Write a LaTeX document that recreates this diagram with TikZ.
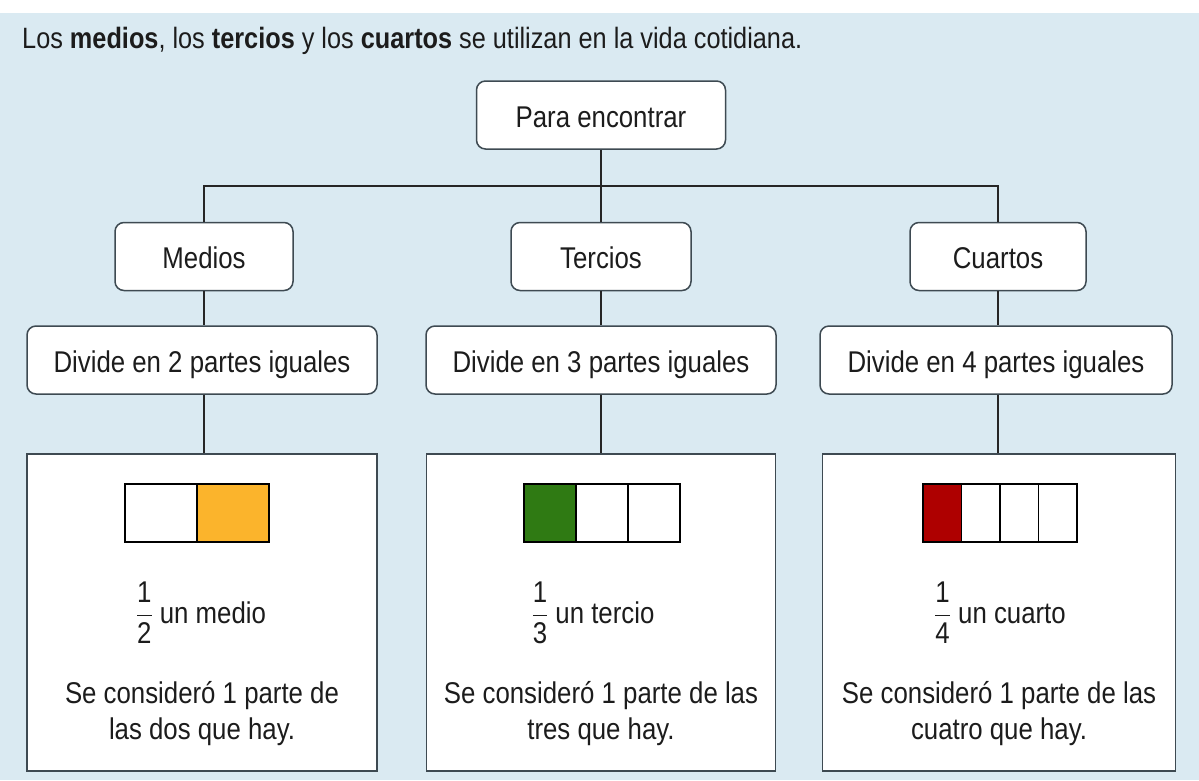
\RequirePackage{fix-cm}
\documentclass[tikz,border=0pt]{standalone}
\usepackage{amsmath}
\usepackage{fontspec}
\setmainfont[FakeStretch=0.86]{Liberation Sans}
\definecolor{bg}{HTML}{DAEAF2}
\definecolor{txt}{HTML}{1C1C1C}
\definecolor{bord}{HTML}{3E4A52}
\definecolor{orng}{HTML}{FBB42C}
\definecolor{grn}{HTML}{2F7A13}
\definecolor{rd}{HTML}{AE0000}
\begin{document}
\begin{tikzpicture}[x=1pt,y=-1pt,
  every node/.style={font=\fontsize{30}{36}\selectfont, text=txt},
  rbox/.style={draw=bord, line width=1.5pt, fill=white, rounded corners=9pt,
    minimum height=68pt, inner sep=0pt, text height=26pt, text depth=2pt},
  panel/.style={draw=bord, line width=1.6pt, fill=white, minimum height=317pt, inner sep=0pt},
  conn/.style={draw=black!85, line width=1.5pt},
  cell/.style={draw=black, line width=1.5pt},
  plain/.style={inner sep=0pt, align=center}]
\useasboundingbox (0,0) rectangle (1199,780);
\fill[bg] (0,13) rectangle (1199,780);

\node[anchor=base west, inner sep=0pt, font=\fontsize{29.4}{36}\selectfont] (title) at (22,48)
  {Los \textbf{medios}, los \textbf{tercios} y los \textbf{cuartos} se utilizan en la vida cotidiana.};

% top
\node[rbox, minimum width=249pt] (para) at (601,115) {Para encontrar};

% level 2
\node[rbox, minimum width=178pt] (medios) at (204,256.5) {Medios};
\node[rbox, minimum width=180pt] (tercios) at (601,256.5) {Tercios};
\node[rbox, minimum width=176pt] (cuartos) at (998,256.5) {Cuartos};

% level 3
\node[rbox, minimum width=350pt] (div1) at (202,360) {Divide en 2 partes iguales};
\node[rbox, minimum width=350pt] (div2) at (601,360) {Divide en 3 partes iguales};
\node[rbox, minimum width=352pt] (div3) at (996,360) {Divide en 4 partes iguales};

% panels
\node[panel, minimum width=350pt] (p1) at (202,612.5) {};
\node[panel, minimum width=349pt] (p2) at (601,612.5) {};
\node[panel, minimum width=353pt] (p3) at (999,612.5) {};

% connectors
\coordinate (hb) at (601,186);
\draw[conn] (para.south) -- (tercios.north);
\draw[conn] (medios.north) |- (hb) -| (cuartos.north);
\draw[conn] (medios.south) -- (medios.south |- div1.north);
\draw[conn] (tercios.south) -- (div2.north);
\draw[conn] (cuartos.south) -- (cuartos.south |- div3.north);
\draw[conn] (medios.south |- div1.south) -- (medios.south |- p1.north);
\draw[conn] (div2.south) -- (p2.north);
\draw[conn] (cuartos.south |- div3.south) -- (cuartos.south |- p3.north);

% bar 1 (halves)
\fill[orng] (197,484) rectangle (269,542);
\draw[cell] (125,484) rectangle (269,542);
\draw[cell] (197,484) -- (197,542);

% bar 2 (thirds)
\fill[grn] (524,484) rectangle (576,542);
\draw[cell] (524,484) rectangle (680,542);
\draw[cell] (576,484) -- (576,542);
\draw[cell] (628,484) -- (628,542);

% bar 3 (quarters)
\fill[rd] (923,484) rectangle (961.5,542);
\draw[cell] (923,484) rectangle (1077,542);
\draw[cell] (961.5,484) -- (961.5,542);
\draw[cell] (1000,484) -- (1000,542);
\draw[cell] (1038.5,484) -- (1038.5,542);

% fractions
\node[anchor=base, inner sep=0pt] (f1) at (201,623) {$\dfrac{\text{1}}{\text{2}}$ un medio};
\node[anchor=base, inner sep=0pt] (f2) at (593,623) {$\dfrac{\text{1}}{\text{3}}$ un tercio};
\node[anchor=base, inner sep=0pt] (f3) at (1000,623) {$\dfrac{\text{1}}{\text{4}}$ un cuarto};

% explanations
\node[plain] (t1) at (202,714) {Se consideró 1 parte de\\las dos que hay.};
\node[plain] (t2) at (601,714) {Se consideró 1 parte de las\\tres que hay.};
\node[plain] (t3) at (999,714) {Se consideró 1 parte de las\\cuatro que hay.};
\end{tikzpicture}
\end{document}
